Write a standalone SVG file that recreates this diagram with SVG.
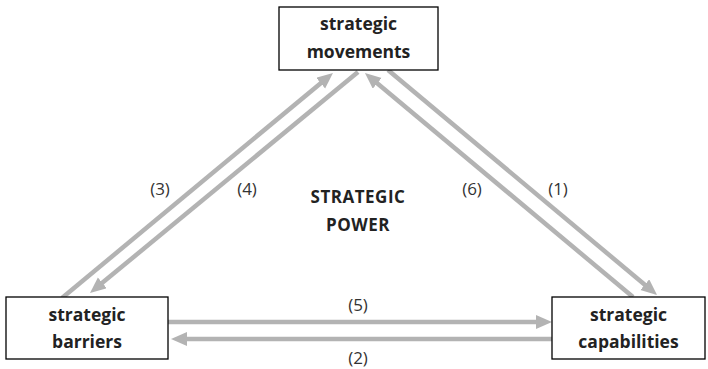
<svg xmlns="http://www.w3.org/2000/svg" width="708" height="369" viewBox="0 0 708 369">
<style>
.box{fill:#fff;stroke:#000;stroke-width:1.3}
.nt{font-family:"Open Sans","Liberation Sans",sans-serif;font-weight:bold;font-size:17.5px;fill:#222;text-anchor:middle}
.pw{font-family:"Open Sans","Liberation Sans",sans-serif;font-weight:bold;font-size:17px;fill:#222;text-anchor:middle;letter-spacing:0.5px}
.lb{font-family:"Open Sans","Liberation Sans",sans-serif;font-size:17px;fill:#333;text-anchor:middle}
.ar{stroke:#b3b3b3;stroke-width:4.5;fill:none;marker-end:url(#ah)}
</style>
<defs>
<marker id="ah" markerUnits="userSpaceOnUse" markerWidth="18" markerHeight="16" refX="2" refY="7" orient="auto">
<path d="M0,0 L16,7 L0,14 z" fill="#b3b3b3"/>
</marker>
</defs>
<rect width="708" height="369" fill="#fff"/>
<g id="connectors">
<line class="ar" x1="168" y1="322" x2="538" y2="322"/>
<line class="ar" x1="552" y1="339" x2="185" y2="339"/>
<line class="ar" x1="62" y1="298" x2="322.2" y2="81.9"/>
<line class="ar" x1="358" y1="72" x2="100.8" y2="284.1"/>
<line class="ar" x1="633" y1="297" x2="375.7" y2="82"/>
<line class="ar" x1="388" y1="70" x2="646.3" y2="286"/>
</g>
<g id="movements">
<rect class="box" x="279" y="7" width="159" height="63"/>
<text class="nt" x="358.5" y="30">strategic</text>
<text class="nt" x="358.5" y="58">movements</text>
</g>
<g id="barriers">
<rect class="box" x="6" y="297" width="162" height="62"/>
<text class="nt" x="87" y="321">strategic</text>
<text class="nt" x="87" y="348">barriers</text>
</g>
<g id="capabilities">
<rect class="box" x="552" y="297" width="153" height="62"/>
<text class="nt" x="628.5" y="321">strategic</text>
<text class="nt" x="628.5" y="348">capabilities</text>
</g>
<g id="labels">
<text class="lb" x="160" y="195">(3)</text>
<text class="lb" x="247" y="195">(4)</text>
<text class="lb" x="472" y="195">(6)</text>
<text class="lb" x="558" y="195">(1)</text>
<text class="lb" x="358" y="311">(5)</text>
<text class="lb" x="358" y="364">(2)</text>
<text class="pw" x="358" y="203">STRATEGIC</text>
<text class="pw" x="358" y="231">POWER</text>
</g>
</svg>
